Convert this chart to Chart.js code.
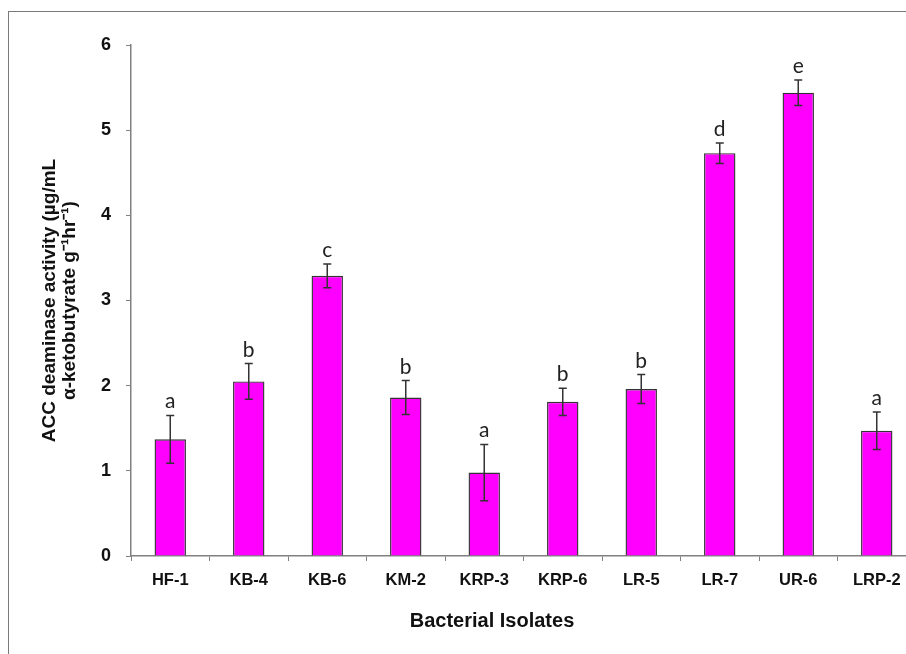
<!DOCTYPE html>
<html>
<head>
<meta charset="utf-8">
<script src="https://cdn.jsdelivr.net/npm/chart.js@4"></script>
<style>
  html, body { margin: 0; padding: 0; background: #fff; overflow: hidden; }
  #frame { position: absolute; left: 8px; top: 11px; width: 960px; height: 700px;
           border-left: 1.5px solid #7a7a7a; border-top: 1.5px solid #7a7a7a; }
  #wrap { position: absolute; left: 0; top: 0; width: 930px; height: 654px; }
</style>
</head>
<body>
<div id="frame"></div>
<div id="wrap"><canvas id="accChart"></canvas></div>
<script>
// DATA
const isolates = ['HF-1', 'KB-4', 'KB-6', 'KM-2', 'KRP-3', 'KRP-6', 'LR-5', 'LR-7', 'UR-6', 'LRP-2'];
const activity = [1.37, 2.05, 3.29, 1.86, 0.98, 1.81, 1.96, 4.73, 5.44, 1.47];
const stdErr = [0.28, 0.21, 0.14, 0.20, 0.33, 0.16, 0.17, 0.12, 0.15, 0.22];
const groups = ['a', 'b', 'c', 'b', 'a', 'b', 'b', 'd', 'e', 'a'];
const yTicks = [0, 1, 2, 3, 4, 5, 6];

// error bars + significance letters
const errorBars = {
  id: 'errorBars',
  afterDatasetsDraw(chart) {
    const { ctx, scales: { x, y } } = chart;
    ctx.save();
    ctx.strokeStyle = '#333';
    ctx.lineWidth = 1.5;
    activity.forEach((v, i) => {
      const px = x.getPixelForValue(i);
      const top = y.getPixelForValue(v + stdErr[i]);
      const bot = y.getPixelForValue(v - stdErr[i]);
      ctx.beginPath();
      ctx.moveTo(px, top); ctx.lineTo(px, bot);
      ctx.moveTo(px - 4, top); ctx.lineTo(px + 4, top);
      ctx.moveTo(px - 4, bot); ctx.lineTo(px + 4, bot);
      ctx.stroke();
      ctx.fillStyle = '#222';
      ctx.font = '21px Lato';
      ctx.textAlign = 'center';
      ctx.textBaseline = 'alphabetic';
      ctx.fillText(groups[i], px, top - 7);
    });
    // x axis title, centred on the figure rather than on the plot area
    ctx.fillStyle = '#111';
    ctx.font = 'bold 20px "Liberation Sans", Arial';
    ctx.textBaseline = 'middle';
    ctx.fillText('Bacterial Isolates', 492, 621);
    ctx.restore();
  }
};

const ctx = document.getElementById('accChart').getContext('2d');
new Chart(ctx, {
  type: 'bar',
  data: {
    labels: isolates,
    datasets: [{
      data: activity,
      backgroundColor: '#ff00ff',
      borderColor: '#333',
      borderWidth: 1.4,
      barPercentage: 0.4,
      categoryPercentage: 1.0
    }]
  },
  options: {
    responsive: true,
    maintainAspectRatio: false,
    animation: false,
    layout: { padding: { top: 45, right: 14, left: 0, bottom: 0 } },
    plugins: { legend: { display: false }, tooltip: { enabled: false } },
    scales: {
      x: {
        grid: { drawOnChartArea: false, drawTicks: true, tickLength: 5, color: '#808080', offset: true },
        border: { color: '#808080', width: 1.5 },
        ticks: { color: '#111', padding: 10, maxRotation: 0, font: { size: 16.5, weight: 'bold', family: 'Liberation Sans' } },
        afterFit(scale) { scale.height = 98; }
      },
      y: {
        min: 0,
        max: 6,
        afterBuildTicks(scale) { scale.ticks = yTicks.map(v => ({ value: v })); },
        grid: { drawOnChartArea: false, drawTicks: true, tickLength: 5, color: '#808080' },
        border: { color: '#808080', width: 1.5 },
        ticks: { color: '#111', padding: 15, font: { size: 18, weight: 'bold', family: 'Liberation Sans' } },
        title: {
          display: true,
          text: ['ACC deaminase activity (µg/mL', 'α-ketobutyrate g⁻¹hr⁻¹)'],
          color: '#111',
          padding: { top: 40, bottom: 0 },
          font: { size: 19, weight: 'bold', family: 'Liberation Sans', lineHeight: 1.05 }
        },
        afterFit(scale) { scale.width = 131; }
      }
    }
  },
  plugins: [errorBars]
});
</script>
</body>
</html>
